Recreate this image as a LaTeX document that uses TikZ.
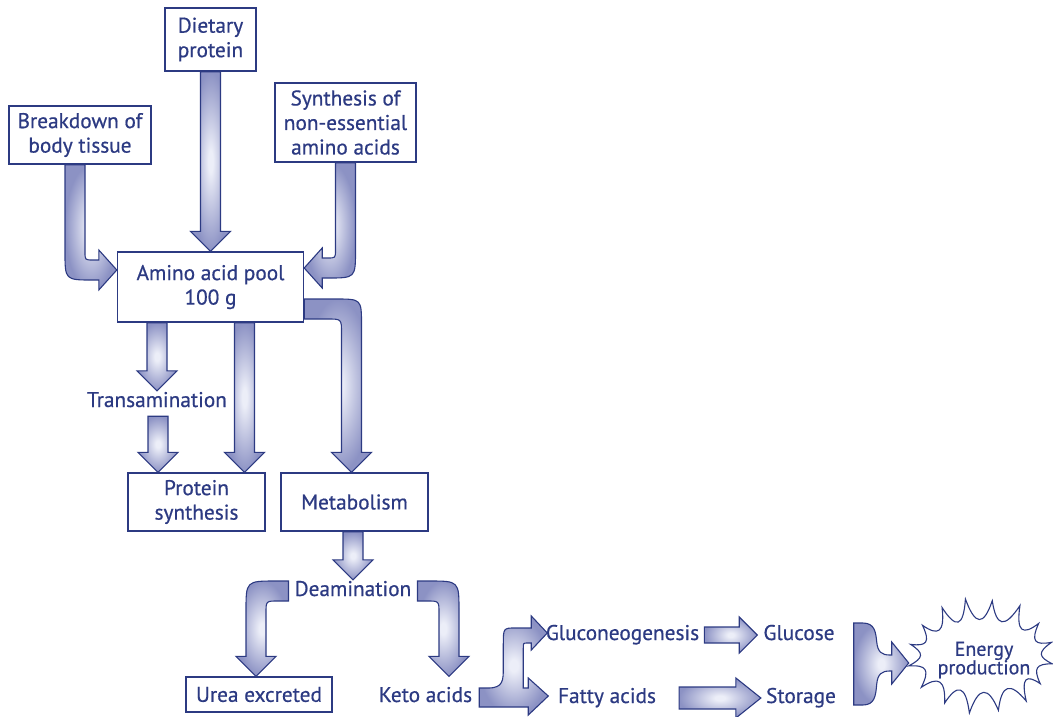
\documentclass[tikz,border=0pt]{standalone}
\usepackage{fontspec}
\setmainfont{PT Sans}[FakeBold=0.6]
\usetikzlibrary{calc}
\definecolor{navy}{HTML}{2C3A82}
\definecolor{aout}{HTML}{8C92C4}
\definecolor{ain}{HTML}{ECEEF8}
\pgfdeclareradialshading{glow}{\pgfpoint{0bp}{0bp}}{color(0bp)=(ain); color(3bp)=(ain); color(25bp)=(aout); color(50bp)=(aout)}
\tikzset{
  box/.style={draw=navy, line width=1.4pt, text=navy, align=center, inner sep=0pt,
    font=\fontsize{21.3}{24.5}\selectfont},
  lbl/.style={text=navy, inner sep=1pt, text height=15pt, text depth=5pt,
    font=\fontsize{21.3}{24}\selectfont},
  barrow/.style={draw=navy, line width=1.1pt, shade, shading=glow},
}
% vertical block arrow from #1 (top) to tip #2
\newcommand\mkV[2]{\path[barrow] let \p1=(#1), \p2=(#2) in
 ({\x2-10pt},\y1) -- ({\x2-10pt},{\y2+20pt}) -- ({\x2-20pt},{\y2+20pt}) -- (\x2,\y2)
 -- ({\x2+20pt},{\y2+20pt}) -- ({\x2+10pt},{\y2+20pt}) -- ({\x2+10pt},\y1) -- cycle;}
% down then sideways (#3 = 1 right, -1 left), #4 outer radius, #5 inner radius
\newcommand\mkDS[5]{\path[barrow] let \p1=(#1), \p2=(#2) in
 ({\x1-(#3)*10pt},\y1) -- ({\x1-(#3)*10pt},{\y2-10pt+#4})
 .. controls ({\x1-(#3)*10pt},{\y2-10pt}) .. ({\x1-(#3)*10pt+(#3)*#4},{\y2-10pt})
 -- ({\x2-(#3)*18pt},{\y2-10pt}) -- ({\x2-(#3)*18pt},{\y2-20pt}) -- (\x2,\y2)
 -- ({\x2-(#3)*18pt},{\y2+20pt}) -- ({\x2-(#3)*18pt},{\y2+10pt})
 -- ({\x1+(#3)*10pt+(#3)*#5},{\y2+10pt})
 .. controls ({\x1+(#3)*10pt},{\y2+10pt}) .. ({\x1+(#3)*10pt},{\y2+10pt+#5})
 -- ({\x1+(#3)*10pt},\y1) -- cycle;}
% sideways then down
\newcommand\mkSD[5]{\path[barrow] let \p1=(#1), \p2=(#2) in
 (\x1,{\y1+10pt}) -- ({\x2+(#3)*10pt-(#3)*#4},{\y1+10pt})
 .. controls ({\x2+(#3)*10pt},{\y1+10pt}) .. ({\x2+(#3)*10pt},{\y1+10pt-#4})
 -- ({\x2+(#3)*10pt},{\y2+20pt}) -- ({\x2+(#3)*20pt},{\y2+20pt}) -- (\x2,\y2)
 -- ({\x2-(#3)*20pt},{\y2+20pt}) -- ({\x2-(#3)*10pt},{\y2+20pt})
 -- ({\x2-(#3)*10pt},{\y1-10pt-#5})
 .. controls ({\x2-(#3)*10pt},{\y1-10pt}) .. ({\x2-(#3)*10pt-(#3)*#5},{\y1-10pt})
 -- (\x1,{\y1-10pt}) -- cycle;}
% horizontal arrow: #3 half shaft, #4 half head, #5 head length
\newcommand\mkH[5]{\path[barrow] let \p1=(#1), \p2=(#2) in
 (\x1,{\y2+#3}) -- ({\x2-#5},{\y2+#3}) -- ({\x2-#5},{\y2+#4}) -- (\x2,\y2)
 -- ({\x2-#5},{\y2-#4}) -- ({\x2-#5},{\y2-#3}) -- (\x1,{\y2-#3}) -- cycle;}
\begin{document}
\begin{tikzpicture}[x=1pt,y=-1pt]
\useasboundingbox (0,0) rectangle (1053,716);
% boxes
\node[box, minimum width=91pt, minimum height=63pt] (diet) at (210.5,39.5) {Dietary\\protein};
\node[box, minimum width=142pt, minimum height=58pt] (brk) at (80,135) {Breakdown of\\body tissue};
\node[box, minimum width=141pt, minimum height=79pt] (synth) at (345.5,122.5) {Synthesis of\\non-essential\\amino acids};
\node[box, minimum width=186pt, minimum height=70pt] (pool) at (210.5,287) {Amino acid pool\\100 g};
\node[box, minimum width=137pt, minimum height=58pt] (prot) at (196.5,502) {Protein\\synthesis};
\node[box, minimum width=147pt, minimum height=58pt] (metab) at (354.5,502) {Metabolism};
\node[box, minimum width=146pt, minimum height=35pt] (urea) at (259,694.5) {Urea excreted};
% labels
\node[lbl, anchor=base] (trans) at (157,407) {Transamination};
\node[lbl, anchor=base] (deam) at (353,596) {Deamination};
\node[lbl, anchor=base] (keto) at (425.5,702) {Keto acids};
\node[lbl, anchor=base] (gluco) at (622.5,640) {Gluconeogenesis};
\node[lbl, anchor=base] (glucose) at (799,640) {Glucose};
\node[lbl, anchor=base] (fatty) at (607,703) {Fatty acids};
\node[lbl, anchor=base] (storage) at (801,703) {Storage};
% arrows into the pool
\mkV{diet.south}{pool.north}
\coordinate (b0) at ($(brk.south)+(-5,0)$);
\coordinate (b1) at ($(pool.west)+(0,-17)$);
\mkDS{b0}{b1}{1}{28pt}{8pt}
\coordinate (s1) at ($(pool.east)+(0,-19)$);
\mkDS{synth.south}{s1}{-1}{28pt}{8pt}
% arrows out of the pool
\coordinate (t0) at (pool.south -| trans.north);
\mkV{t0}{trans.north}
\coordinate (t2) at ($(trans.south)+(1,3)$);
\coordinate (t3) at (prot.north -| t2);
\mkV{t2}{t3}
\coordinate (p0) at ($(pool.south)+(34,0)$);
\coordinate (p1) at (prot.north -| p0);
\mkV{p0}{p1}
\coordinate (m0) at ($(pool.east)+(0,22)$);
\coordinate (m1) at ($(metab.north)+(-3,0)$);
\mkSD{m0}{m1}{1}{26pt}{14pt}
% metabolism to deamination
\coordinate (d0) at (metab.south -| deam.north);
\mkV{d0}{deam.north}
\coordinate (u0) at ($(deam.west)+(-5,0)$);
\coordinate (u1) at ($(urea.north)+(-3,0)$);
\mkSD{u0}{u1}{-1}{30pt}{12pt}
\coordinate (k0) at ($(deam.east)+(5,0)$);
\coordinate (k1) at ($(urea.north)+(190,0)$);
\mkSD{k0}{k1}{1}{30pt}{12pt}
% keto acids fork
\path[barrow, shift={($(keto.east)+(6,0)$)}]
  (0,10) -- (0,-9) -- (9,-9) .. controls (24,-9) and (24,-17) .. (24,-29)
  -- (24,-52) .. controls (24,-69) .. (36,-69) -- (52,-69) -- (52,-81) -- (68,-64)
  -- (52,-47) -- (52,-54) -- (48,-54) .. controls (44,-54) .. (44,-49)
  -- (44,-9) -- (49,-9) -- (49,-19) -- (69,-1) -- (49,18) -- (49,10) -- cycle;
% horizontal arrows
\coordinate (g0) at ($(gluco.east)+(4,0)$);
\coordinate (g1) at ($(glucose.west)+(-5,0)$);
\mkH{g0}{g1}{8pt}{18pt}{18pt}
\coordinate (f0) at ($(fatty.east)+(22,0)$);
\coordinate (f1) at ($(storage.west)+(-4,0)$);
\mkH{f0}{f1}{11pt}{20pt}{25pt}
% brace arrow
\path[barrow, shift={(glucose.east)}]
  (18,-12) -- (27,-12) .. controls (39,-12) and (40,-3) .. (41,7)
  .. controls (42,17) and (46,20) .. (54,20) -- (56,20) -- (56,7) -- (73,28)
  -- (56,49) -- (56,36) -- (54,36) .. controls (46,36) and (42,39) .. (41,49)
  .. controls (40,61) and (39,70) .. (27,70) -- (18,70) -- cycle;
% energy burst
\node[text=navy, align=center, inner sep=0pt, font=\fontsize{20}{18.5}\selectfont] (energy) at (984,660) {Energy\\production};
\coordinate (bc) at ($(energy.center)+(-3,-4)$);
\draw[navy, line width=1.1pt] ($(bc)+({72*cos(8)},{56*sin(8)})$)
  \foreach \a/\b/\r in {8/31/0.96, 31/52/1.02, 52/76/1.0, 76/99/1.03, 99/121/0.98,
     121/146/1.0, 146/170/1.02, 170/192/1.0, 192/214/0.98, 214/238/1.02, 238/258/1.04,
     258/279/1.0, 279/301/1.05, 301/324/0.99, 324/346/1.01, 346/368/1.0}
  { .. controls ($(bc)+({57*cos(\a+0.3*(\b-\a))},{30*sin(\a+0.3*(\b-\a))})$)
     and ($(bc)+({57*cos(\a+0.7*(\b-\a))},{30*sin(\a+0.7*(\b-\a))})$)
     .. ($(bc)+({72*\r*cos(\b)},{56*\r*sin(\b)})$) } -- cycle;
\end{tikzpicture}
\end{document}
